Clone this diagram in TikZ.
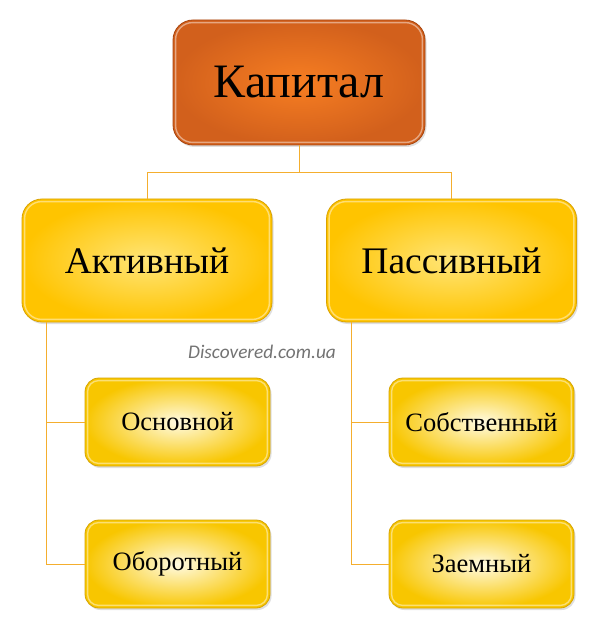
\documentclass[tikz,border=0pt]{standalone}
\usepackage{fontspec}
\setmainfont{Liberation Serif}
\newfontfamily\wmfont{Carlito}
\usetikzlibrary{shadows}
\definecolor{topin}{HTML}{F77E22}
\definecolor{topout}{HTML}{D2601C}
\definecolor{topdraw}{HTML}{A9460F}
\definecolor{midin}{HTML}{FFE577}
\definecolor{midout}{HTML}{FFC400}
\definecolor{middraw}{HTML}{D9A200}
\definecolor{smin}{HTML}{FFFBE2}
\definecolor{smout}{HTML}{F8C600}
\definecolor{smdraw}{HTML}{D6A400}
\definecolor{conncol}{HTML}{F4AE2E}
\definecolor{wmgray}{HTML}{737373}
\tikzset{
  boxbase/.style={draw, line width=0.8pt, text=black, inner sep=0pt,
    drop shadow={shadow xshift=1.5pt, shadow yshift=-2pt, opacity=0.25}},
  topbox/.style={boxbase, rounded corners=20pt, minimum width=252pt, minimum height=125pt,
    inner color=topin, outer color=topout, draw=topdraw, font=\fontsize{48}{52}\selectfont},
  midbox/.style={boxbase, rounded corners=20pt, minimum width=250pt, minimum height=123pt,
    inner color=midin, outer color=midout, draw=middraw, font=\fontsize{37.5}{42}\selectfont},
  smbox/.style={boxbase, rounded corners=14pt, minimum width=185pt, minimum height=88pt,
    inner color=smin, outer color=smout, draw=smdraw, font=\fontsize{26.5}{30}\selectfont},
  conn/.style={draw=conncol, line width=0.9pt},
  bevel/.style={white, opacity=0.45, line width=1.4pt},
}
\newcommand{\bevelbox}[2]{%
  \draw[bevel, rounded corners=#2] ([shift={(3pt,-3pt)}]#1.north west) rectangle ([shift={(-3pt,3pt)}]#1.south east);}
\begin{document}
\begin{tikzpicture}[x=1pt,y=-1pt]
\useasboundingbox (0,0) rectangle (600,628);
\fill[white] (0,0) rectangle (600,628);
% nodes
\node[topbox] (kap) at (299,82.5) {Капитал};
\node[midbox] (akt) at (147,260.5) {Активный};
\node[midbox] (pas) at (451.5,260.5) {Пассивный};
\node[smbox] (osn) at (177.5,422) {Основной};
\node[smbox] (obo) at (177.5,564) {Оборотный};
\node[smbox] (sob) at (481.5,422) {Собственный};
\node[smbox] (zae) at (481.5,564) {Заемный};
\bevelbox{kap}{17pt}
\bevelbox{akt}{17pt}
\bevelbox{pas}{17pt}
\bevelbox{osn}{11pt}
\bevelbox{obo}{11pt}
\bevelbox{sob}{11pt}
\bevelbox{zae}{11pt}
% connectors
\coordinate (j) at (299,172);
\draw[conn] (kap.south) -- (j) -| (akt.north);
\draw[conn] (j) -| (pas.north);
\coordinate (lt) at ([xshift=25pt]akt.south west);
\coordinate (rt) at ([xshift=25pt]pas.south west);
\draw[conn] (lt) |- (osn.west);
\draw[conn] (lt) |- (obo.west);
\draw[conn] (rt) |- (sob.west);
\draw[conn] (rt) |- (zae.west);
% watermark
\node[font=\wmfont\itshape\fontsize{19.3}{22}\selectfont, text=wmgray] (wm) at (262,352) {Discovered.com.ua};
\end{tikzpicture}
\end{document}
